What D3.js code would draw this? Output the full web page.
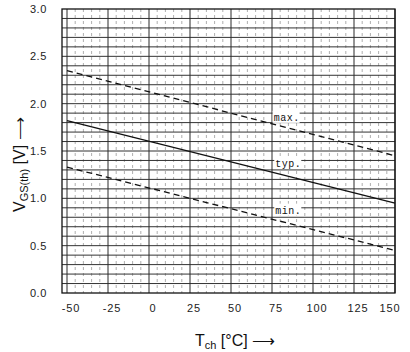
<!DOCTYPE html>
<html>
<head>
<meta charset="utf-8">
<script src="https://cdn.jsdelivr.net/npm/d3@7"></script>
<style>
  body { margin: 0; background: #fff; }
  svg { display: block; }
</style>
</head>
<body>
<div id="chart"></div>
<script>
// chart values
const temps = [-50, 150];
const vMax = [2.35, 1.45];
const vTyp = [1.82, 0.95];
const vMin = [1.33, 0.45];
const xTicks = [-50, -25, 0, 25, 50, 75, 100, 125, 150];
const yTicks = [0, 0.5, 1.0, 1.5, 2.0, 2.5, 3.0];
const curveLabels = [
    { name: "max.", t: 76, v: 1.85 },
    { name: "typ.", t: 77, v: 1.37 },
    { name: "min.", t: 77, v: 0.87 }
];

const svgWidth = 410, svgHeight = 352;
const frame = { left: 62, right: 395, top: 9, bottom: 293 };

const svg = d3.select("#chart").append("svg")
    .attr("width", svgWidth)
    .attr("height", svgHeight);

const x = d3.scaleLinear().domain([-50, 150]).range([67, 395]);
const y = d3.scaleLinear().domain([0, 3]).range([293, 9]);

// minor vertical grid, every 5 degrees
const minorX = d3.range(-50, 150.1, 5).filter(d => d % 25 !== 0);
svg.append("g")
    .selectAll("line")
    .data(minorX)
    .join("line")
    .attr("x1", d => x(d)).attr("x2", d => x(d))
    .attr("y1", frame.top).attr("y2", frame.bottom)
    .attr("stroke", "#9a9a9a")
    .attr("stroke-width", 0.8)
    .attr("stroke-dasharray", "3,3");

// horizontal grid, every 0.1 V
svg.append("g")
    .selectAll("line")
    .data(d3.range(1, 30).map(i => i / 10))
    .join("line")
    .attr("x1", frame.left).attr("x2", frame.right)
    .attr("y1", d => y(d)).attr("y2", d => y(d))
    .attr("stroke", "#333")
    .attr("stroke-width", 1);

// major vertical grid
svg.append("g")
    .selectAll("line")
    .data(xTicks)
    .join("line")
    .attr("x1", d => x(d)).attr("x2", d => x(d))
    .attr("y1", frame.top).attr("y2", frame.bottom)
    .attr("stroke", "#2a2a2a")
    .attr("stroke-width", 1);

// frame
svg.append("rect")
    .attr("x", frame.left).attr("y", frame.top)
    .attr("width", frame.right - frame.left)
    .attr("height", frame.bottom - frame.top)
    .attr("fill", "none")
    .attr("stroke", "#111")
    .attr("stroke-width", 1.3);

// curves
const line = d3.line().x(d => x(d[0])).y(d => y(d[1]));
const series = [
    { vals: vMax, dash: "6,4" },
    { vals: vTyp, dash: null },
    { vals: vMin, dash: "6,4" }
];
svg.append("g")
    .selectAll("path")
    .data(series)
    .join("path")
    .attr("d", s => line(temps.map((t, i) => [t, s.vals[i]])))
    .attr("fill", "none")
    .attr("stroke", "#111")
    .attr("stroke-width", 1.3)
    .attr("stroke-dasharray", s => s.dash);

// curve labels with white backing
const lab = svg.append("g")
    .selectAll("g")
    .data(curveLabels)
    .join("g")
    .attr("transform", d => `translate(${x(d.t)},${y(d.v)})`);
lab.append("rect")
    .attr("x", -1).attr("y", -7)
    .attr("width", 27).attr("height", 12)
    .attr("fill", "#fff");
lab.append("text")
    .attr("dy", "0.32em")
    .style("font", "10px 'Liberation Mono', 'DejaVu Sans Mono', monospace")
    .style("letter-spacing", "0.5px")
    .attr("fill", "#111")
    .text(d => d.name);

// y tick labels
svg.append("g")
    .selectAll("text")
    .data(yTicks)
    .join("text")
    .attr("x", 47)
    .attr("y", d => y(d))
    .attr("dy", "0.35em")
    .attr("text-anchor", "end")
    .style("font", "11px 'Liberation Sans', Arial, sans-serif")
    .style("letter-spacing", "0.6px")
    .attr("fill", "#222")
    .text(d => d3.format(".1f")(d));

// x tick labels
svg.append("g")
    .selectAll("text")
    .data(xTicks)
    .join("text")
    .attr("x", d => x(d) + (d === 150 ? -5 : 4))
    .attr("y", 308)
    .attr("dy", "0.35em")
    .attr("text-anchor", "middle")
    .style("font", "11px 'Liberation Sans', Arial, sans-serif")
    .style("letter-spacing", "0.8px")
    .attr("fill", "#222")
    .text(d => d);

// x axis title
const xt = svg.append("text")
    .attr("x", 195)
    .attr("y", 346)
    .style("font", "16px 'Liberation Sans', Arial, sans-serif")
    .attr("fill", "#111");
xt.append("tspan").text("T");
xt.append("tspan").attr("font-size", "11px").attr("dy", 3).text("ch");
xt.append("tspan").attr("dy", -3).text(" [°C]  ⟶");

// y axis title
const yt = svg.append("text")
    .attr("transform", "translate(25,212) rotate(-90)")
    .style("font", "16px 'Liberation Sans', Arial, sans-serif")
    .attr("fill", "#111");
yt.append("tspan").text("V");
yt.append("tspan").attr("font-size", "11px").attr("dy", 3).text("GS(th)");
yt.append("tspan").attr("dy", -3).text(" [V]  ⟶");
</script>
</body>
</html>
